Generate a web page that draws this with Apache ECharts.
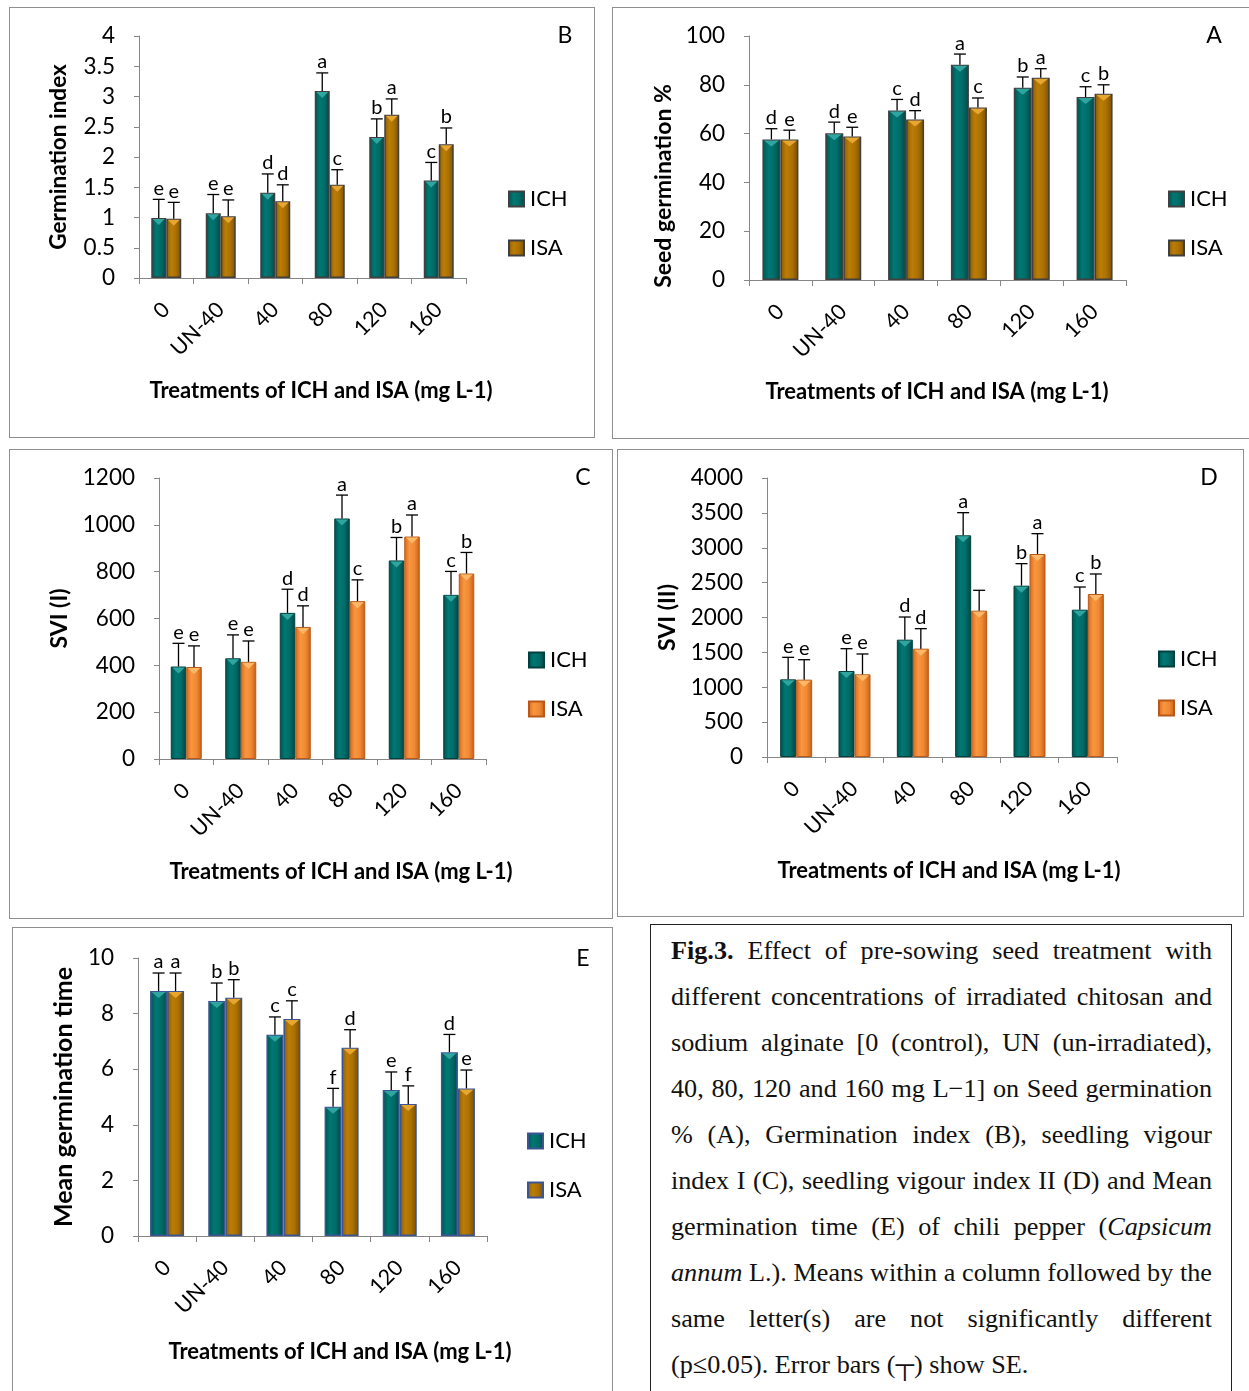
<!DOCTYPE html>
<html><head><meta charset="utf-8">
<script src="https://cdn.jsdelivr.net/npm/echarts@6/dist/echarts.min.js"></script>
<style>
html,body{margin:0;padding:0;background:#fff;width:1249px;height:1391px;overflow:hidden;position:relative;}
.panel{position:absolute;border:1px solid #8f8f8f;box-sizing:border-box;background:#fff;}
.chart{position:absolute;left:0;top:0;right:0;bottom:0;}
#cap{position:absolute;left:650px;top:924px;width:582px;height:480px;border:1.5px solid #222;box-sizing:border-box;
 font-family:"Liberation Serif","Times New Roman",serif;font-size:26.2px;color:#111;padding:3px 19px 0 20px;}
#cap .ln{height:46px;line-height:46px;text-align:justify;text-align-last:justify;overflow:hidden;}
#cap .ln.last{text-align:left;text-align-last:left;}
</style></head>
<body>
<div class="panel" style="left:9px;top:7px;width:586px;height:431px;"><div id="pB" class="chart"></div></div>
<div class="panel" style="left:612px;top:7px;width:640px;height:432px;"><div id="pA" class="chart"></div></div>
<div class="panel" style="left:9px;top:449px;width:604px;height:470px;"><div id="pC" class="chart"></div></div>
<div class="panel" style="left:617px;top:449px;width:627px;height:468px;"><div id="pD" class="chart"></div></div>
<div class="panel" style="left:12px;top:927px;width:601px;height:480px;"><div id="pE" class="chart"></div></div>
<div id="cap">
<div class="ln"><b>Fig.3.</b> Effect of pre-sowing seed treatment with</div>
<div class="ln">different concentrations of irradiated chitosan and</div>
<div class="ln">sodium alginate [0 (control), UN (un-irradiated),</div>
<div class="ln">40, 80, 120 and 160 mg L−1] on Seed germination</div>
<div class="ln">% (A), Germination index (B), seedling vigour</div>
<div class="ln">index I (C), seedling vigour index II (D) and Mean</div>
<div class="ln">germination time (E) of chili pepper (<i>Capsicum</i></div>
<div class="ln"><i>annum</i> L.). Means within a column followed by the</div>
<div class="ln">same letter(s) are not significantly different</div>
<div class="ln last">(p≤0.05). Error bars (┬) show SE.</div>
</div>
<script>
// ---------- data ----------
const categories = ['0', 'UN-40', '40', '80', '120', '160'];
const seriesNames = ['ICH', 'ISA'];
const xTitle = 'Treatments of ICH and ISA (mg L-1)';

// A: Seed germination %
const seedGermICH    = [57.6, 60.1, 69.5, 88.2, 78.8, 75.0];
const seedGermICHErr = [4.4, 4.6, 4.5, 4.4, 4.4, 4.2];
const seedGermISA    = [57.6, 58.8, 65.8, 70.7, 82.9, 76.3];
const seedGermISAErr = [3.8, 3.8, 3.6, 3.9, 3.7, 3.7];
const seedGermICHLetters = ['d', 'd', 'c', 'a', 'b', 'c'];
const seedGermISALetters = ['e', 'e', 'd', 'c', 'a', 'b'];

// B: Germination index
const germIndexICH    = [0.99, 1.07, 1.41, 3.09, 2.33, 1.61];
const germIndexICHErr = [0.31, 0.31, 0.31, 0.30, 0.30, 0.30];
const germIndexISA    = [0.98, 1.02, 1.27, 1.54, 2.70, 2.21];
const germIndexISAErr = [0.27, 0.27, 0.27, 0.25, 0.26, 0.27];
const germIndexICHLetters = ['e', 'e', 'd', 'a', 'b', 'c'];
const germIndexISALetters = ['e', 'e', 'd', 'c', 'a', 'b'];

// C: SVI (I)
const sviIICH    = [395, 430, 624, 1027, 848, 701];
const sviIICHErr = [99, 100, 101, 100, 98, 100];
const sviIISA    = [393, 415, 564, 674, 950, 792];
const sviIISAErr = [90, 89, 90, 91, 92, 90];
const sviIICHLetters = ['e', 'e', 'd', 'a', 'b', 'c'];
const sviIISALetters = ['e', 'e', 'd', 'c', 'a', 'b'];

// D: SVI (II)
const sviIIICH    = [1113, 1233, 1682, 3178, 2456, 2112];
const sviIIICHErr = [316, 320, 325, 325, 316, 325];
const sviIIISA    = [1109, 1185, 1553, 2098, 2910, 2337];
const sviIIISAErr = [286, 292, 287, 292, 292, 287];
const sviIIICHLetters = ['e', 'e', 'd', 'a', 'b', 'c'];
const sviIIISALetters = ['e', 'e', 'd', '', 'a', 'b'];

// E: Mean germination time
const mgtICH    = [8.81, 8.45, 7.24, 4.65, 5.25, 6.61];
const mgtICHErr = [0.65, 0.65, 0.64, 0.66, 0.65, 0.64];
const mgtISA    = [8.81, 8.57, 7.81, 6.77, 4.75, 5.31];
const mgtISAErr = [0.65, 0.65, 0.65, 0.65, 0.65, 0.66];
const mgtICHLetters = ['a', 'b', 'c', 'f', 'e', 'd'];
const mgtISALetters = ['a', 'b', 'c', 'd', 'f', 'e'];

// ---------- styles ----------
function grad(stops) {
  return {type: 'linear', x: 0, y: 0, x2: 1, y2: 0,
    colorStops: stops.map((c, i) => ({offset: i / (stops.length - 1), color: c}))};
}
const STY = {
  ich:    {fill: grad(['#00524F', '#007873', '#006B67', '#004543']), tri: '#2FA5A0'},
  gold:   {fill: grad(['#8C5B00', '#BB7D06', '#A97002', '#774D00']), tri: '#E6A630'},
  orange: {fill: grad(['#D8681C', '#F89740', '#EF8933', '#C55E17']), tri: '#FFB868'}
};
const FONT = 'Lato, "Open Sans", sans-serif';

function overlay(off, bw, letters, tri) {
  return function (params, api) {
    const i = api.value(0), v = api.value(1), e = api.value(2);
    const p0 = api.coord([i, v]);
    const p1 = api.coord([i, v + e]);
    const x = p0[0] + off;
    const hw = bw / 2;
    return {type: 'group', children: [
      {type: 'polygon', shape: {points: [[x - hw + 1.5, p0[1] + 1], [x + hw - 1.5, p0[1] + 1], [x, p0[1] + 7]]},
       style: {fill: tri}},
      {type: 'line', shape: {x1: x, y1: p0[1], x2: x, y2: p1[1]}, style: {stroke: '#000', lineWidth: 1.3}},
      {type: 'line', shape: {x1: x - 6, y1: p1[1], x2: x + 6, y2: p1[1]}, style: {stroke: '#000', lineWidth: 1.3}},
      {type: 'text', x: x, y: p1[1] - 1,
       style: {text: letters[params.dataIndex], align: 'center', verticalAlign: 'bottom',
               textAlign: 'center', textVerticalAlign: 'bottom', font: '20px ' + FONT, fill: '#000'}}
    ]};
  };
}

function makeChart(id, c) {
  const chart = echarts.init(document.getElementById(id));
  const bw = c.barWidth;
  const mkBar = (name, vals, sty, border) => ({
    type: 'bar', name: name, data: vals, barWidth: bw, barGap: '0%',
    itemStyle: {color: sty.fill, borderColor: border, borderWidth: c.borderWidth},
    z: 2, silent: true
  });
  const mkOv = (name, vals, errs, letters, off, sty) => ({
    type: 'custom', name: name, renderItem: overlay(off, bw, letters, sty.tri),
    data: vals.map((v, i) => [i, v, errs[i]]), encode: {x: 0, y: 1}, z: 5, silent: true
  });
  chart.setOption({
    animation: false,
    textStyle: {fontFamily: FONT},
    grid: Object.assign({containLabel: false, outerBoundsMode: 'none'}, c.grid),
    xAxis: {type: 'category', data: categories, boundaryGap: true,
      axisLine: {show: true, lineStyle: {color: '#868686', width: 1}},
      axisTick: {show: true, length: 6, lineStyle: {color: '#868686'}},
      axisLabel: {rotate: 45, margin: 28, fontSize: 21.5, color: '#000', fontFamily: FONT, interval: 0},
      splitLine: {show: false}},
    yAxis: {type: 'value', min: 0, max: c.yMax, interval: c.yInt,
      name: c.yName, nameLocation: 'middle', nameGap: c.nameGap,
      nameTextStyle: {fontSize: c.nameSize, fontWeight: 'bold', color: '#000', fontFamily: FONT,
                      padding: c.namePad || 0},
      axisLine: {show: true, lineStyle: {color: '#868686', width: 1}},
      axisTick: {show: true, length: 5, lineStyle: {color: '#868686'}},
      axisLabel: {fontSize: 22.5, color: '#000', margin: 24, fontFamily: FONT,
                  formatter: v => String(v)},
      splitLine: {show: false}},
    legend: {orient: 'vertical', left: c.legend[0] - 4, top: c.legend[1], data: seriesNames,
      icon: 'rect', itemWidth: 15, itemHeight: 15, itemGap: 27, selectedMode: false,
      textStyle: {fontSize: 22, color: '#000', fontFamily: FONT, padding: [0, 0, 0, 1]}},
    graphic: [
      {type: 'text', x: c.letterPos[0], y: c.letterPos[1],
       style: {text: c.letter, font: '23px ' + FONT, fill: '#000', align: 'center', verticalAlign: 'middle',
               textAlign: 'center', textVerticalAlign: 'middle'}},
      {type: 'text', x: c.titlePos[0], y: c.titlePos[1],
       style: {text: xTitle, font: 'bold 22px ' + FONT, fill: '#000', align: 'center', verticalAlign: 'middle',
               textAlign: 'center', textVerticalAlign: 'middle'}}
    ],
    series: [
      mkBar('ICH', c.ich, STY.ich, c.ichBorder),
      mkBar('ISA', c.isa, c.isaSty, c.isaBorder),
      mkOv('ICH-err', c.ich, c.ichErr, c.ichLet, -bw / 2, STY.ich),
      mkOv('ISA-err', c.isa, c.isaErr, c.isaLet, bw / 2, c.isaSty)
    ]
  });
}

makeChart('pB', {
  grid: {left: 129, top: 28, width: 327, height: 242},
  yMax: 4, yInt: 0.5, yName: 'Germination index', nameGap: 69, nameSize: 22.5,
  barWidth: 15, borderWidth: 1.5, ichBorder: '#404040', isaBorder: '#404040', isaSty: STY.gold,
  ich: germIndexICH, ichErr: germIndexICHErr, ichLet: germIndexICHLetters,
  isa: germIndexISA, isaErr: germIndexISAErr, isaLet: germIndexISALetters,
  legend: [497, 175], letter: 'B', letterPos: [555, 28], titlePos: [311, 383]
});
makeChart('pA', {
  grid: {left: 136, top: 28, width: 377, height: 244},
  yMax: 100, yInt: 20, yName: 'Seed germination %', nameGap: 73, nameSize: 23, namePad: [0, 56, 0, 0],
  barWidth: 18, borderWidth: 1.5, ichBorder: '#404040', isaBorder: '#404040', isaSty: STY.gold,
  ich: seedGermICH, ichErr: seedGermICHErr, ichLet: seedGermICHLetters,
  isa: seedGermISA, isaErr: seedGermISAErr, isaLet: seedGermISALetters,
  legend: [554, 175], letter: 'A', letterPos: [601, 28], titlePos: [324, 384]
});
makeChart('pC', {
  grid: {left: 149, top: 28, width: 327, height: 281},
  yMax: 1200, yInt: 200, yName: 'SVI (I)', nameGap: 88, nameSize: 23,
  barWidth: 15.5, borderWidth: 1, ichBorder: '#00403E', isaBorder: '#B8581A', isaSty: STY.orange,
  ich: sviIICH, ichErr: sviIICHErr, ichLet: sviIICHLetters,
  isa: sviIISA, isaErr: sviIISAErr, isaLet: sviIISALetters,
  legend: [517, 194], letter: 'C', letterPos: [573, 28], titlePos: [331, 422]
});
makeChart('pD', {
  grid: {left: 149, top: 28, width: 350, height: 279},
  yMax: 4000, yInt: 500, yName: 'SVI (II)', nameGap: 88, nameSize: 23,
  barWidth: 16, borderWidth: 1, ichBorder: '#00403E', isaBorder: '#B8581A', isaSty: STY.orange,
  ich: sviIIICH, ichErr: sviIIICHErr, ichLet: sviIIICHLetters,
  isa: sviIIISA, isaErr: sviIIISAErr, isaLet: sviIIISALetters,
  legend: [539, 193], letter: 'D', letterPos: [591, 28], titlePos: [331, 421]
});
makeChart('pE', {
  grid: {left: 125, top: 30, width: 349, height: 278},
  yMax: 10, yInt: 2, yName: 'Mean germination time', nameGap: 62, nameSize: 25,
  barWidth: 17, borderWidth: 1.5, ichBorder: '#3A5592', isaBorder: '#3A5592', isaSty: STY.gold,
  ich: mgtICH, ichErr: mgtICHErr, ichLet: mgtICHLetters,
  isa: mgtISA, isaErr: mgtISAErr, isaLet: mgtISALetters,
  legend: [513, 197], letter: 'E', letterPos: [570, 31], titlePos: [327, 424]
});
</script>
</body></html>
